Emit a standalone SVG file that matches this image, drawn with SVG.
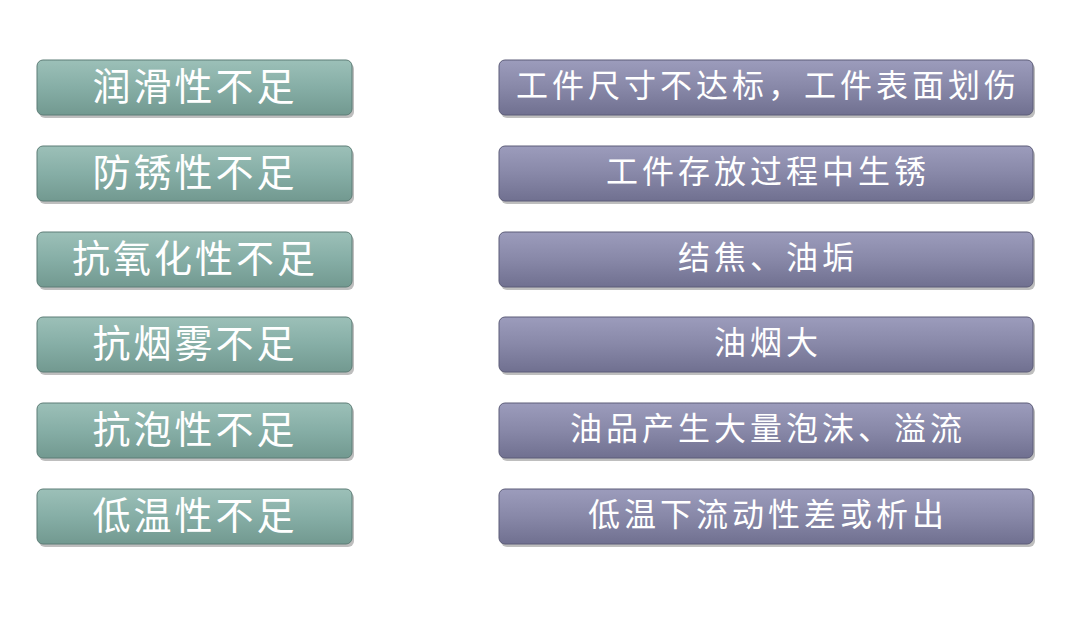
<svg xmlns="http://www.w3.org/2000/svg" width="1079" height="618" viewBox="0 0 1079 618">
<defs>
<linearGradient id="gl" x1="0" y1="0" x2="0" y2="1"><stop offset="0" stop-color="#9cc0b8"/><stop offset="0.5" stop-color="#86aea6"/><stop offset="1" stop-color="#729990"/></linearGradient>
<linearGradient id="gr" x1="0" y1="0" x2="0" y2="1"><stop offset="0" stop-color="#9c9cbc"/><stop offset="0.5" stop-color="#8888a8"/><stop offset="1" stop-color="#707090"/></linearGradient>
</defs>
<style>
.l{fill:url(#gl);stroke:#5d7d76;stroke-width:1}
.r{fill:url(#gr);stroke:#5c5c78;stroke-width:1}
.sh{fill:#444;opacity:0.35}
text{fill:#fff;font-family:"Noto Sans CJK SC",sans-serif;text-anchor:middle;dominant-baseline:central}
.tl{font-size:38px;letter-spacing:3px}
.tr{font-size:32px;letter-spacing:4px}
</style>
<rect width="1079" height="618" fill="#fff"/>
<g id="l1"><rect class="sh" x="39" y="63" width="315" height="55" rx="6"/><rect class="l" x="37" y="60" width="315" height="55" rx="6"/><text class="tl" x="195" y="83">润滑性不足</text></g>
<g id="l2"><rect class="sh" x="39" y="149" width="315" height="55" rx="6"/><rect class="l" x="37" y="146" width="315" height="55" rx="6"/><text class="tl" x="195" y="169">防锈性不足</text></g>
<g id="l3"><rect class="sh" x="39" y="235" width="315" height="55" rx="6"/><rect class="l" x="37" y="232" width="315" height="55" rx="6"/><text class="tl" x="195" y="255">抗氧化性不足</text></g>
<g id="l4"><rect class="sh" x="39" y="320" width="315" height="55" rx="6"/><rect class="l" x="37" y="317" width="315" height="55" rx="6"/><text class="tl" x="195" y="340">抗烟雾不足</text></g>
<g id="l5"><rect class="sh" x="39" y="406" width="315" height="55" rx="6"/><rect class="l" x="37" y="403" width="315" height="55" rx="6"/><text class="tl" x="195" y="426">抗泡性不足</text></g>
<g id="l6"><rect class="sh" x="39" y="492" width="315" height="55" rx="6"/><rect class="l" x="37" y="489" width="315" height="55" rx="6"/><text class="tl" x="195" y="512">低温性不足</text></g>
<g id="r1"><rect class="sh" x="501" y="63" width="534" height="55" rx="6"/><rect class="r" x="499" y="60" width="534" height="55" rx="6"/><text class="tr" x="768" y="83">工件尺寸不达标，工件表面划伤</text></g>
<g id="r2"><rect class="sh" x="501" y="149" width="534" height="55" rx="6"/><rect class="r" x="499" y="146" width="534" height="55" rx="6"/><text class="tr" x="768" y="169">工件存放过程中生锈</text></g>
<g id="r3"><rect class="sh" x="501" y="235" width="534" height="55" rx="6"/><rect class="r" x="499" y="232" width="534" height="55" rx="6"/><text class="tr" x="768" y="255">结焦、油垢</text></g>
<g id="r4"><rect class="sh" x="501" y="320" width="534" height="55" rx="6"/><rect class="r" x="499" y="317" width="534" height="55" rx="6"/><text class="tr" x="768" y="340">油烟大</text></g>
<g id="r5"><rect class="sh" x="501" y="406" width="534" height="55" rx="6"/><rect class="r" x="499" y="403" width="534" height="55" rx="6"/><text class="tr" x="768" y="426">油品产生大量泡沫、溢流</text></g>
<g id="r6"><rect class="sh" x="501" y="492" width="534" height="55" rx="6"/><rect class="r" x="499" y="489" width="534" height="55" rx="6"/><text class="tr" x="768" y="512">低温下流动性差或析出</text></g>
<g id="connectors"/>
</svg>
